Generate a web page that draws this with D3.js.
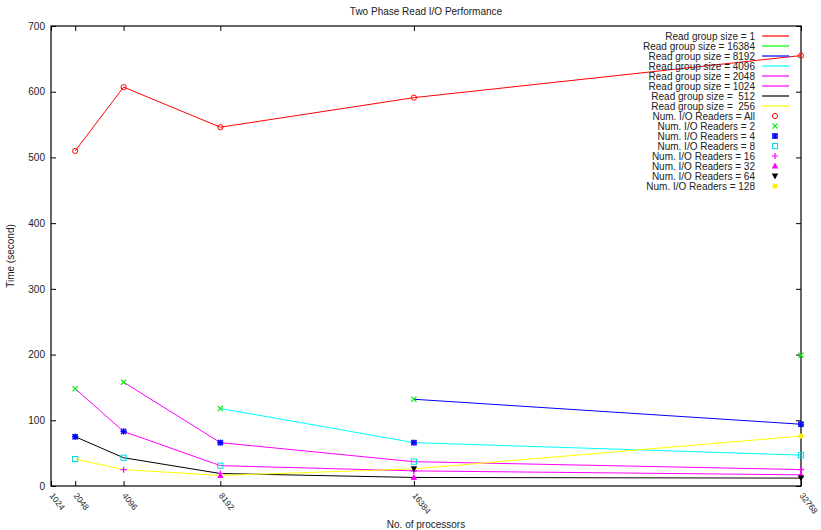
<!DOCTYPE html>
<html>
<head>
<meta charset="utf-8">
<script src="https://cdn.jsdelivr.net/npm/d3@7"></script>
<style>
    body { margin: 0; background: #fff; }
    text { font-family: "Liberation Sans", Arial, Helvetica, sans-serif; fill: #222; }
</style>
</head>
<body>
<div id="chart"></div>
<script>
// x values (no. of processors)
var tickProcs = [1024, 2048, 4096, 8192, 16384, 32768];
var procs = [2048, 4096, 8192, 16384, 32768];

// read group sizes, same order as the key
var groupSizes = [1, 16384, 8192, 4096, 2048, 1024, 512, 256];
var groupLabels = ["1", "16384", "8192", "4096", "2048", "1024", " 512", " 256"];

// time (second) per group size, one value per entry of procs
var timeG1 = [510, 607, 546, 591, 655];
var timeG16384 = [null, null, null, null, 199];
var timeG8192 = [null, null, null, 132, 94];
var timeG4096 = [null, null, 118, 66, 47];
var timeG2048 = [null, 158, 66, 37, 25];
var timeG1024 = [148, 83, 31, 23, 17];
var timeG512 = [75, 43, 19, 13, 12];
var timeG256 = [41, 25, 16, 26, 76];

// number of I/O readers (procs / group size), legend order
var readerLabels = ["All", "2", "4", "8", "16", "32", "64", "128"];
var readerCounts = [null, 2, 4, 8, 16, 32, 64, 128];

var yTicks = [0, 100, 200, 300, 400, 500, 600, 700];

// styles
var lineColors = ["#ff0000", "#00ff00", "#0000ff", "#00ffff", "#ff00ff", "#ff00ff", "#000000", "#ffff00"];
var pointColors = ["#ff0000", "#00ee00", "#0000ff", "#00dddd", "#ff00ff", "#ff00ff", "#000000", "#ffee00"];
var pointTypes = ["circle", "x", "star", "square", "plus", "triangle", "downtri", "dot"];

var allTimes = [timeG1, timeG16384, timeG8192, timeG4096, timeG2048, timeG1024, timeG512, timeG256];

// draw one gnuplot style point
function drawPoint(g, type, x, y, color) {
    var s = 2.6;
    if (type == "circle") {
        g.append("circle").attr("cx", x).attr("cy", y).attr("r", s)
            .attr("fill", "none").attr("stroke", color).attr("stroke-width", 1);
    } else if (type == "dot") {
        g.append("circle").attr("cx", x).attr("cy", y).attr("r", s)
            .attr("fill", color);
    } else if (type == "square") {
        g.append("rect").attr("x", x - s).attr("y", y - s).attr("width", 2 * s).attr("height", 2 * s)
            .attr("fill", "none").attr("stroke", color).attr("stroke-width", 1);
    } else if (type == "triangle") {
        g.append("path").attr("d", "M" + x + "," + (y - s - 0.8) + "L" + (x + s + 0.6) + "," + (y + s) + "L" + (x - s - 0.6) + "," + (y + s) + "Z")
            .attr("fill", color);
    } else if (type == "downtri") {
        g.append("path").attr("d", "M" + x + "," + (y + s + 0.8) + "L" + (x + s + 0.6) + "," + (y - s) + "L" + (x - s - 0.6) + "," + (y - s) + "Z")
            .attr("fill", color);
    } else {
        var d = "";
        if (type == "x" || type == "star") {
            d += "M" + (x - s) + "," + (y - s) + "L" + (x + s) + "," + (y + s);
            d += "M" + (x - s) + "," + (y + s) + "L" + (x + s) + "," + (y - s);
        }
        if (type == "plus" || type == "star") {
            d += "M" + (x - s - 0.5) + "," + y + "L" + (x + s + 0.5) + "," + y;
            d += "M" + x + "," + (y - s - 0.5) + "L" + x + "," + (y + s + 0.5);
        }
        g.append("path").attr("d", d).attr("fill", "none").attr("stroke", color).attr("stroke-width", 1.2);
        if (type == "star") {
            g.append("rect").attr("x", x - s + 0.3).attr("y", y - s + 0.3).attr("width", 2 * s - 0.6).attr("height", 2 * s - 0.6)
                .attr("fill", "none").attr("stroke", color).attr("stroke-width", 0.6);
        }
    }
}

ReadVis = function (_parentElement) {
    this.parentElement = _parentElement;
    this.initVis();
}

ReadVis.prototype.initVis = function () {
    var vis = this;

    vis.margin = { top: 26, right: 20, bottom: 44, left: 51 };
    vis.width = 821 - vis.margin.left - vis.margin.right;
    vis.height = 530 - vis.margin.top - vis.margin.bottom;

    vis.svg = d3.select("#" + vis.parentElement).append("svg")
        .attr("width", 821)
        .attr("height", 530)
        .append("g")
        .attr("transform", "translate(" + vis.margin.left + "," + vis.margin.top + ")");

    vis.x = d3.scaleLinear().domain([1024, 32768]).range([0, vis.width]);
    vis.y = d3.scaleLinear().domain([0, 700]).range([vis.height, 0]);

    // build series: one line per group size
    vis.series = allTimes.map(function (times, i) {
        var pts = [];
        for (let j = 0; j < procs.length; j++) {
            if (times[j] != null) {
                pts.push({ procs: procs[j], time: times[j], group: groupSizes[i], readers: procs[j] / groupSizes[i] });
            }
        }
        return pts;
    });

    vis.updateVis();
}

ReadVis.prototype.updateVis = function () {
    var vis = this;

    // title and labels
    vis.svg.append("text").attr("x", vis.width / 2).attr("y", -11)
        .attr("text-anchor", "middle").style("font-size", "10px")
        .text("Two Phase Read I/O Performance");
    vis.svg.append("text").attr("x", vis.width / 2).attr("y", vis.height + 42)
        .attr("text-anchor", "middle").style("font-size", "10px")
        .text("No. of processors");
    vis.svg.append("text")
        .attr("transform", "translate(-37," + (vis.height / 2) + ") rotate(-90)")
        .attr("text-anchor", "middle").style("font-size", "10px")
        .text("Time (second)");

    // axes, ticks pointing inward like gnuplot
    var yAxis = d3.axisLeft(vis.y).tickValues(yTicks).tickSizeInner(-5).tickSizeOuter(0).tickPadding(6);
    var yAxisR = d3.axisRight(vis.y).tickValues(yTicks).tickSizeInner(-5).tickSizeOuter(0).tickFormat("");
    var xAxis = d3.axisBottom(vis.x).tickValues(tickProcs).tickSizeInner(-5).tickSizeOuter(0).tickFormat(d3.format("d"));
    var xAxisT = d3.axisTop(vis.x).tickValues(tickProcs).tickSizeInner(-5).tickSizeOuter(0).tickFormat("");

    vis.svg.append("g").attr("class", "y-axis").call(yAxis);
    vis.svg.append("g").attr("transform", "translate(" + vis.width + ",0)").call(yAxisR);
    vis.svg.append("g").attr("class", "x-axis").attr("transform", "translate(0," + vis.height + ")").call(xAxis);
    vis.svg.append("g").call(xAxisT);

    vis.svg.selectAll(".domain").attr("stroke", "none");
    vis.svg.selectAll(".tick line").attr("stroke", "#000");
    vis.svg.selectAll(".y-axis text").style("font-size", "10px").attr("fill", "#222");
    vis.svg.selectAll(".x-axis text")
        .style("font-size", "8.5px")
        .attr("fill", "#222")
        .attr("text-anchor", "start")
        .attr("y", 0).attr("dy", "0.35em")
        .attr("transform", "translate(0,8) rotate(52)");

    // plot border
    vis.svg.append("rect").attr("width", vis.width).attr("height", vis.height)
        .attr("fill", "none").attr("stroke", "#000").attr("stroke-width", 1.2);

    // lines
    var line = d3.line()
        .x(function (d) { return vis.x(d.procs); })
        .y(function (d) { return vis.y(d.time); });

    for (let i = 0; i < vis.series.length; i++) {
        vis.svg.append("path")
            .datum(vis.series[i])
            .attr("fill", "none")
            .attr("stroke", lineColors[i])
            .attr("stroke-width", 1)
            .attr("d", line);
    }

    // points grouped by no. of readers, drawn in key order
    var allPts = [].concat.apply([], vis.series);
    var pg = vis.svg.append("g");
    for (let k = 0; k < readerLabels.length; k++) {
        allPts.forEach(function (d) {
            var match = (k == 0) ? d.group == 1 : (d.group != 1 && d.readers == readerCounts[k]);
            if (match) {
                drawPoint(pg, pointTypes[k], vis.x(d.procs), vis.y(d.time), pointColors[k]);
            }
        });
    }

    // key
    var key = vis.svg.append("g").attr("transform", "translate(" + (755 - vis.margin.left) + "," + (36 - vis.margin.top) + ")");
    for (let i = 0; i < groupSizes.length; i++) {
        key.append("text").attr("x", 0).attr("y", i * 10).attr("dy", "0.35em")
            .attr("text-anchor", "end").style("font-size", "10px").style("white-space", "pre")
            .attr("xml:space", "preserve")
            .text("Read group size = " + groupLabels[i]);
        key.append("line").attr("x1", 7).attr("x2", 34).attr("y1", i * 10).attr("y2", i * 10)
            .attr("stroke", lineColors[i]).attr("stroke-width", 1.2);
    }
    for (let k = 0; k < readerLabels.length; k++) {
        var yy = (groupSizes.length + k) * 10;
        key.append("text").attr("x", 0).attr("y", yy).attr("dy", "0.35em")
            .attr("text-anchor", "end").style("font-size", "10px")
            .text("Num. I/O Readers = " + readerLabels[k]);
        drawPoint(key, pointTypes[k], 20, yy, pointColors[k]);
    }
}

new ReadVis("chart");
</script>
</body>
</html>
